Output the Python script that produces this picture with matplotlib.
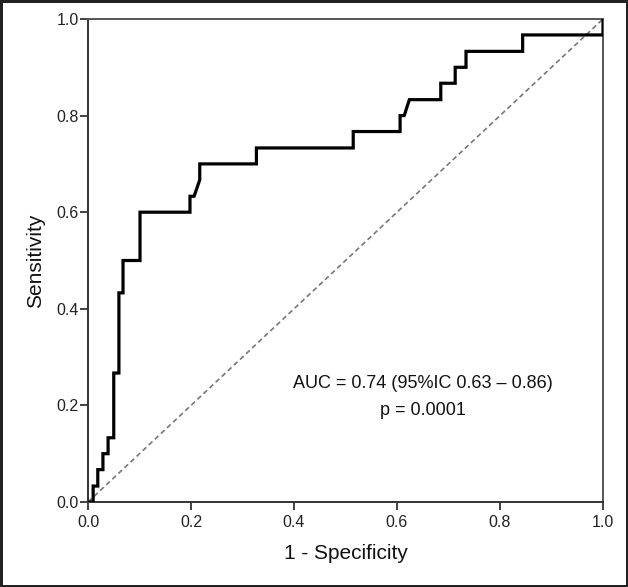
import matplotlib
matplotlib.use("Agg")
import matplotlib.pyplot as plt

# ROC curve vertices (1 - specificity, sensitivity)
fpr = [0.0, 0.010, 0.010, 0.019, 0.019, 0.029, 0.029, 0.039, 0.039, 0.050, 0.050,
       0.060, 0.060, 0.068, 0.068, 0.101, 0.101, 0.198, 0.198, 0.206, 0.217, 0.217,
       0.327, 0.327, 0.515, 0.515, 0.606, 0.606, 0.614, 0.624, 0.685, 0.685,
       0.713, 0.713, 0.734, 0.734, 0.844, 0.844, 1.0, 1.0]
tpr = [0.0, 0.0, 0.033, 0.033, 0.067, 0.067, 0.100, 0.100, 0.133, 0.133, 0.267,
       0.267, 0.433, 0.433, 0.500, 0.500, 0.600, 0.600, 0.633, 0.633, 0.667, 0.700,
       0.700, 0.733, 0.733, 0.767, 0.767, 0.800, 0.800, 0.833, 0.833, 0.867,
       0.867, 0.900, 0.900, 0.933, 0.933, 0.967, 0.967, 1.0]
ref_line = [0.0, 1.0]
ticks = [0.0, 0.2, 0.4, 0.6, 0.8, 1.0]
tick_labels = ["0.0", "0.2", "0.4", "0.6", "0.8", "1.0"]
auc_text = "AUC = 0.74 (95%IC 0.63 \u2013 0.86)"
p_text = "p = 0.0001"

plt.rcParams['font.family'] = ['Liberation Sans', 'DejaVu Sans']

fig = plt.figure(figsize=(6.28, 5.87), dpi=100)
fig.patch.set_facecolor("white")
fig.patch.set_edgecolor("#222222")
fig.patch.set_linewidth(2.5)

ax = fig.add_axes([88/628, 1 - 502/587, (603-88)/628, (502-19)/587])
ax.plot(ref_line, ref_line, linestyle=(0, (3, 2)), color="#777777", linewidth=1.2, zorder=2)
ax.plot(fpr, tpr, color="black", linewidth=2.3, solid_joinstyle="miter", zorder=3)

ax.set_xlim(0, 1)
ax.set_ylim(0, 1)
ax.set_xticks(ticks)
ax.set_xticklabels(tick_labels)
ax.set_yticks(ticks)
ax.set_yticklabels(tick_labels)
ax.tick_params(axis="both", direction="out", length=5.5, width=1.3, color="#333333",
               labelsize=11.5, labelcolor="#222222")
ax.tick_params(axis="x", pad=4)
ax.tick_params(axis="y", pad=1)
for side in ["left", "bottom"]:
    ax.spines[side].set_linewidth(1.4)
    ax.spines[side].set_color("#333333")
for side in ["top", "right"]:
    ax.spines[side].set_linewidth(1.4)
    ax.spines[side].set_color("#555555")

ax.set_xlabel("1 - Specificity", fontsize=15, color="#111111", labelpad=10)
ax.set_ylabel("Sensitivity", fontsize=15, color="#111111", labelpad=8)

ax.text(0.65, 0.245, auc_text, transform=ax.transAxes, ha="center", va="center",
        fontsize=13, color="#111111")
ax.text(0.65, 0.19, p_text, transform=ax.transAxes, ha="center", va="center",
        fontsize=13, color="#111111")

fig.savefig("out.png", dpi=100, facecolor=fig.get_facecolor(), edgecolor=fig.get_edgecolor())
